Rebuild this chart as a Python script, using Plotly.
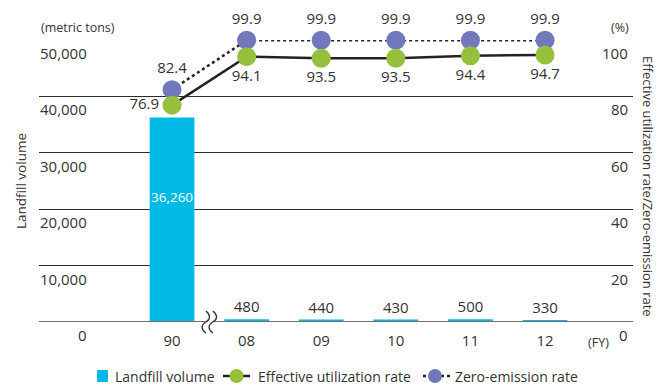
import plotly.graph_objects as go

# Fiscal years and values
years = ["90", "08", "09", "10", "11", "12"]
landfill_volume = [36260, 480, 440, 430, 500, 330]          # metric tons
effective_rate = [76.9, 94.1, 93.5, 93.5, 94.4, 94.7]        # %
zero_emission_rate = [82.4, 99.9, 99.9, 99.9, 99.9, 99.9]    # %

left_ticks = [0, 10000, 20000, 30000, 40000, 50000]
right_ticks = [0, 20, 40, 60, 80, 100]

W, H = 658, 386
L, R, T, B = 39, 25, 40, 64
PW, PH = W - L - R, H - T - B

BAR = "#00b9e4"
GREEN = "#95c03c"
PURPLE = "#7179bc"
LINE = "#222222"
TXT = "#333333"
FONT = "Open Sans"


def px(x):
    return (x - L) / PW


def py(y):
    return (H - B - y) / PH


xs = list(range(len(years)))

fig = go.Figure()

bar_text = ["" if i == 0 else f"{v:,}" for i, v in enumerate(landfill_volume)]
bar_pos = ["none"] + ["outside"] * (len(years) - 1)
fig.add_trace(go.Bar(
    x=xs, y=landfill_volume, width=0.6, name="Landfill volume",
    marker=dict(color=BAR, line=dict(width=0)),
    text=bar_text, textposition=bar_pos,
    textfont=dict(size=15, color=TXT, family=FONT),
    cliponaxis=False,
))

fig.add_trace(go.Scatter(
    x=xs, y=zero_emission_rate, yaxis="y2", name="Zero-emission rate",
    mode="lines+markers+text",
    line=dict(color=LINE, width=2.5, dash="dot"),
    marker=dict(size=19, color=PURPLE),
    text=[f"{v:.1f}" for v in zero_emission_rate], textposition="top center",
    textfont=dict(size=15, color=TXT, family=FONT),
    cliponaxis=False,
))

fig.add_trace(go.Scatter(
    x=xs, y=effective_rate, yaxis="y2", name="Effective utilization rate",
    mode="lines+markers+text",
    line=dict(color=LINE, width=2.5),
    marker=dict(size=19, color=GREEN),
    text=[f"{v:.1f}" for v in effective_rate],
    textposition=["middle left"] + ["bottom center"] * (len(years) - 1),
    textfont=dict(size=15, color=TXT, family=FONT),
    cliponaxis=False,
))

annotations = []
# Left axis labels, sitting just below each gridline
for v in left_ticks:
    annotations.append(dict(
        xref="paper", yref="y", x=px(89), y=v, text=f"{v:,}",
        xanchor="right", yanchor="top", yshift=-1, showarrow=False,
        font=dict(size=15, color=TXT, family=FONT)))
# Right axis labels
for v in right_ticks:
    annotations.append(dict(
        xref="paper", yref="y2", x=px(630), y=v, text=str(v),
        xanchor="right", yanchor="top", yshift=-1, showarrow=False,
        font=dict(size=15, color=TXT, family=FONT)))

# Large bar value inside the bar
annotations.append(dict(
    x=0, y=landfill_volume[0], xref="x", yref="y", text=f"{landfill_volume[0]:,}",
    yanchor="top", yshift=-69, showarrow=False,
    font=dict(size=13.5, color="white", family=FONT)))

annotations += [
    dict(xref="paper", yref="paper", x=px(39), y=py(28), text="(metric tons)",
         xanchor="left", yanchor="middle", showarrow=False,
         font=dict(size=12.5, color=TXT, family=FONT)),
    dict(xref="paper", yref="paper", x=px(631), y=py(28), text="(%)",
         xanchor="right", yanchor="middle", showarrow=False,
         font=dict(size=12.5, color=TXT, family=FONT)),
    dict(xref="paper", yref="paper", x=px(598), y=py(342), text="(FY)",
         xanchor="center", yanchor="middle", showarrow=False,
         font=dict(size=12.5, color=TXT, family=FONT)),
    dict(xref="paper", yref="paper", x=px(21), y=py(181), text="Landfill volume",
         textangle=-90, xanchor="center", yanchor="middle", showarrow=False,
         font=dict(size=13.5, color=TXT, family=FONT)),
    dict(xref="paper", yref="paper", x=px(648), y=py(186),
         text="Effective utilization rate/Zero-emission rate",
         textangle=90, xanchor="center", yanchor="middle", showarrow=False,
         font=dict(size=13, color=TXT, family=FONT)),
]

shapes = [
    # baseline
    dict(type="line", xref="paper", yref="y", x0=0, x1=1, y0=0, y1=0,
         line=dict(color="#6e6e6e", width=2), layer="above"),
    # axis break between 90 and 08 (paper y so it is not clipped at the baseline)
    dict(type="rect", xref="x", yref="paper", xsizemode="pixel", ysizemode="pixel",
         xanchor=0.5, yanchor=0, x0=-4, x1=4, y0=-3, y1=3,
         fillcolor="white", line=dict(width=0), layer="above"),
]
for a in (-3.5, 3.5):
    shapes.append(dict(
        type="path", xref="x", yref="paper", xsizemode="pixel", ysizemode="pixel",
        xanchor=0.5, yanchor=0,
        path=f"M {a},11 C {a + 5},7 {a + 5},3 {a},0 C {a - 5},-3 {a - 5},-7 {a},-11",
        line=dict(color="#333333", width=1.3), layer="above"))

# Legend drawn below the plot
LEG_Y = 376
legend_font = dict(size=14, color=TXT, family=FONT)
shapes.append(dict(type="rect", xref="paper", yref="paper",
                   x0=px(97), x1=px(108), y0=py(370), y1=py(382),
                   fillcolor=BAR, line=dict(width=0)))
annotations.append(dict(xref="paper", yref="paper", x=px(113), y=py(LEG_Y),
                        text="Landfill volume", xanchor="left", yanchor="middle",
                        showarrow=False, font=legend_font))

shapes.append(dict(type="line", xref="paper", yref="paper",
                   x0=px(223), x1=px(250), y0=py(LEG_Y), y1=py(LEG_Y),
                   line=dict(color=LINE, width=2.5)))
shapes.append(dict(type="circle", xref="paper", yref="paper",
                   xsizemode="pixel", ysizemode="pixel",
                   xanchor=px(236.5), yanchor=py(LEG_Y),
                   x0=-7, x1=7, y0=-7, y1=7,
                   fillcolor=GREEN, line=dict(width=0)))
annotations.append(dict(xref="paper", yref="paper", x=px(256), y=py(LEG_Y),
                        text="Effective utilization rate", xanchor="left",
                        yanchor="middle", showarrow=False, font=legend_font))

shapes.append(dict(type="line", xref="paper", yref="paper",
                   x0=px(423), x1=px(450), y0=py(LEG_Y), y1=py(LEG_Y),
                   line=dict(color=LINE, width=2.5, dash="dot")))
shapes.append(dict(type="circle", xref="paper", yref="paper",
                   xsizemode="pixel", ysizemode="pixel",
                   xanchor=px(435), yanchor=py(LEG_Y),
                   x0=-7, x1=7, y0=-7, y1=7,
                   fillcolor=PURPLE, line=dict(width=0)))
annotations.append(dict(xref="paper", yref="paper", x=px(453), y=py(LEG_Y),
                        text="Zero-emission rate", xanchor="left",
                        yanchor="middle", showarrow=False, font=legend_font))

fig.update_layout(
    width=W, height=H,
    margin=dict(l=L, r=R, t=T, b=B, pad=0, autoexpand=False),
    paper_bgcolor="white", plot_bgcolor="white",
    font=dict(family=FONT, size=15, color=TXT),
    showlegend=False,
    xaxis=dict(range=[-1.783, 6.179], tickmode="array", tickvals=xs, ticktext=years,
               showgrid=False, zeroline=False, showline=False, ticks="",
               ticklabelstandoff=8, tickfont=dict(size=15, color=TXT, family=FONT)),
    yaxis=dict(range=[0, 50000], tickmode="array", tickvals=left_ticks,
               showticklabels=False, showgrid=True, gridcolor="#2b2b2b", gridwidth=1,
               zeroline=False, showline=False, ticks=""),
    yaxis2=dict(range=[0, 100], overlaying="y", side="right", showgrid=False,
                showticklabels=False, zeroline=False, showline=False, ticks=""),
    annotations=annotations, shapes=shapes,
)

fig.write_html("out.html")
